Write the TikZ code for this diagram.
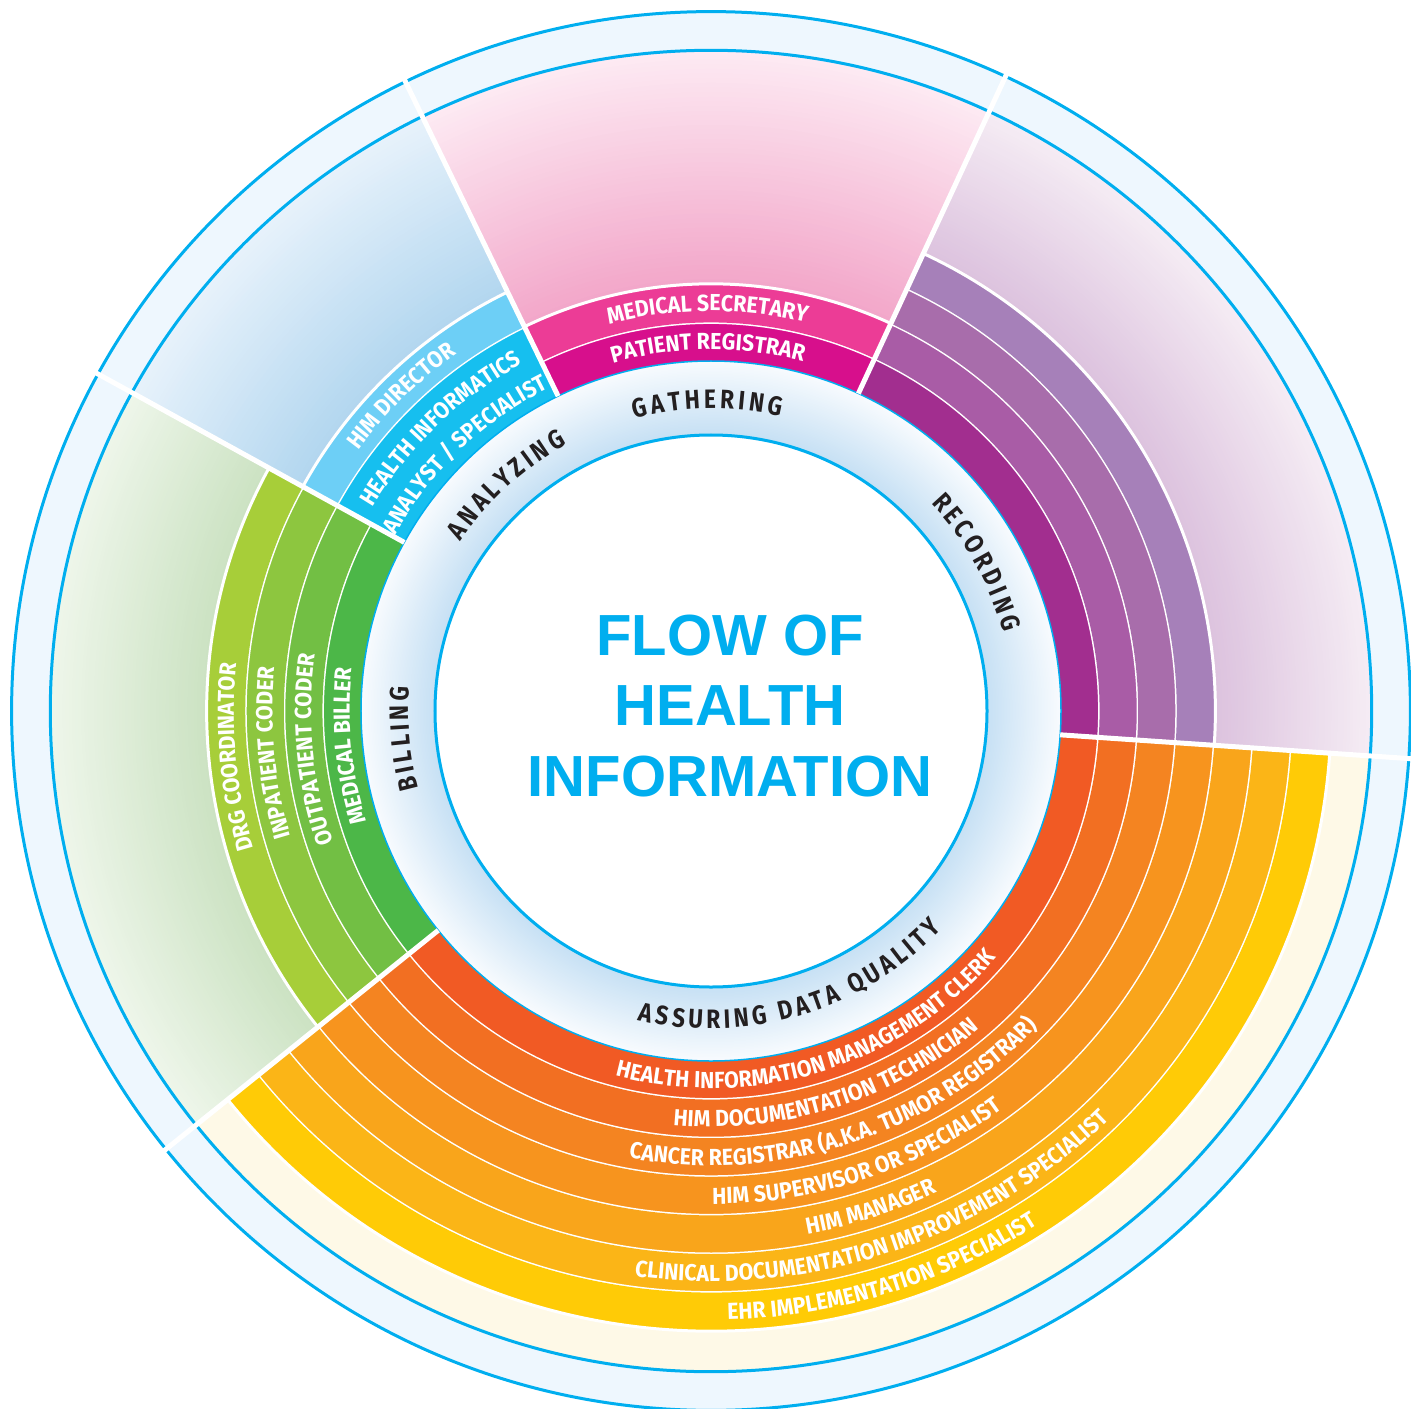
\documentclass[tikz,border=0pt]{standalone}
\usepackage{fontspec}
\usetikzlibrary{decorations.text}
\newfontfamily\bandfont[FakeStretch=0.92]{Fira Sans}
\newfontfamily\phasefont[FakeStretch=0.85]{Fira Sans}
\newfontfamily\titlefont{Liberation Sans}
\definecolor{blueline}{HTML}{00AEEF}
\definecolor{outerfill}{HTML}{EEF7FE}
\definecolor{phaseblack}{HTML}{231F20}
\definecolor{ringA}{HTML}{C6E0F4}
\definecolor{ringB}{HTML}{F8FBFE}
\definecolor{pinkA}{HTML}{F2A6C9}
\definecolor{pinkB}{HTML}{FDEAF3}
\definecolor{purpA}{HTML}{DCC2DE}
\definecolor{purpB}{HTML}{F5ECF4}
\definecolor{greenA}{HTML}{CBE2C2}
\definecolor{greenB}{HTML}{EEF6EA}
\definecolor{bluA}{HTML}{B2D6EF}
\definecolor{bluB}{HTML}{E7F2FB}
\definecolor{paleyellow}{HTML}{FEF9E7}
\definecolor{pk1}{HTML}{D70F8C}
\definecolor{pk2}{HTML}{EC3C96}
\definecolor{pu1}{HTML}{A22E8F}
\definecolor{pu2}{HTML}{A95CA6}
\definecolor{pu3}{HTML}{A86DAB}
\definecolor{pu4}{HTML}{A680B9}
\definecolor{or1}{HTML}{F15A24}
\definecolor{or2}{HTML}{F26F22}
\definecolor{or3}{HTML}{F48421}
\definecolor{or4}{HTML}{F7941E}
\definecolor{or5}{HTML}{F9A51B}
\definecolor{or6}{HTML}{FBB517}
\definecolor{or7}{HTML}{FFCB06}
\definecolor{gr1}{HTML}{4CB748}
\definecolor{gr2}{HTML}{72BF44}
\definecolor{gr3}{HTML}{8DC63F}
\definecolor{gr4}{HTML}{A7CE39}
\definecolor{bl1}{HTML}{16BFEF}
\definecolor{bl2}{HTML}{6DCFF6}
\newcommand{\annsec}[5]{\fill[#1] (#2:#4) arc[start angle=#2, end angle=#3, radius=#4] -- (#3:#5) arc[start angle=#3, end angle=#2, radius=#5] -- cycle;}
\newcommand{\sepline}[3]{\draw[white, line width=1.5pt] (#1:#3) arc[start angle=#1, end angle=#2, radius=#3];}
% gradient: inner colour #1 at radius #5, outer colour #2 at radius #6, clipped to angles #3..#4
\newcommand{\gradsector}[6]{\begin{scope}\clip (0,0) -- (#3:720) arc[start angle=#3, end angle=#4, radius=720] -- cycle;
  \foreach \i in {0,...,50} {%
    \pgfmathsetmacro\rr{#6-\i*(#6-#5)/50}%
    \pgfmathsetmacro\pp{\i*2}%
    \fill[#1!\pp!#2] (0,0) circle (\rr);
  }\end{scope}}
\newcommand{\bandstack}[3]{%
  \foreach \c [count=\k] in {#3} {%
    \pgfmathsetmacro\ri{350+38.6*(\k-1)}%
    \pgfmathsetmacro\ro{350+38.6*\k}%
    \annsec{\c}{#1}{#2}{\ri}{\ro}
    \sepline{#1}{#2}{\ro}
  }}
\newcommand{\bandstyle}{\bandfont\bfseries\fontsize{11.6pt}{13pt}\selectfont\color{white}}
\newcommand{\phasestyle}{\phasefont\bfseries\fontsize{13.3pt}{15pt}\selectfont\color{phaseblack}\kern1.9pt}
\newcommand{\intext}[3]{\path[decorate, decoration={text along path, text align=center, text={|\bandstyle|#3}}] ({#1-75}:#2) arc[start angle={#1-75}, end angle={#1+75}, radius=#2];}
\newcommand{\outtext}[3]{\path[decorate, decoration={text along path, text align=center, text={|\bandstyle|#3}}] ({#1+75}:#2) arc[start angle={#1+75}, end angle={#1-75}, radius=#2];}
\newcommand{\inphase}[3]{\path[decorate, decoration={text along path, text align=center, text={|\phasestyle|#3}}] ({#1-75}:#2) arc[start angle={#1-75}, end angle={#1+75}, radius=#2];}
\newcommand{\outphase}[3]{\path[decorate, decoration={text along path, text align=center, text={|\phasestyle|#3}}] ({#1+75}:#2) arc[start angle={#1+75}, end angle={#1-75}, radius=#2];}
\begin{document}
\begin{tikzpicture}[x=0.5pt,y=0.5pt]
\useasboundingbox (-711,-697) rectangle (700,711);
% outer pale ring
\fill[outerfill] (0,0) circle (699.4);
% sector gradients
\gradsector{pinkA}{pinkB}{65.1}{115.9}{427.2}{660.7}
\gradsector{bluA}{bluB}{115.9}{151.2}{465.8}{660.7}
\gradsector{greenA}{greenB}{151.2}{218.8}{504.4}{660.7}
\gradsector{purpA}{purpB}{-3.9}{65.1}{504.4}{660.7}
\annsec{paleyellow}{-141.2}{-3.9}{620.2}{660.7}
\draw[blueline, line width=1.5pt] (0,0) circle (699.4);
\draw[blueline, line width=1.5pt] (0,0) circle (660.7);
% bands
\bandstack{65.1}{115.9}{pk1,pk2}
\bandstack{-3.9}{65.1}{pu1,pu2,pu3,pu4}
\bandstack{-141.2}{-3.9}{or1,or2,or3,or4,or5,or6,or7}
\bandstack{151.2}{218.8}{gr1,gr2,gr3,gr4}
\annsec{bl1}{115.9}{151.2}{350}{427.2}
\sepline{115.9}{151.2}{427.2}
\annsec{bl2}{115.9}{151.2}{427.2}{465.8}
\sepline{115.9}{151.2}{465.8}
% phase ring
\gradsector{ringA}{ringB}{0}{360}{276}{350}
\draw[blueline, line width=0.75pt] (0,0) circle (350);
\fill[white] (0,0) circle (276);
\draw[blueline, line width=1.5pt] (0,0) circle (276);
% sector separators
\foreach \a in {65.1,115.9,151.2,218.8,356.1} {\draw[white, line width=2.5pt] (\a:350) -- (\a:712);}
% phase labels
\outphase{91}{302.5}{GATHERING}
\outphase{132.5}{302.5}{ANALYZING}
\outphase{29.5}{302.5}{RECORDING}
\outphase{185.5}{302.5}{BILLING}
\inphase{-73.7}{317.5}{ASSURING DATA QUALITY}
% pink
\outtext{90.5}{361.3}{PATIENT REGISTRAR}
\outtext{90.5}{399.9}{MEDICAL SECRETARY}
% blue
\outtext{133.75}{361.5}{ANALYST / SPECIALIST}
\outtext{133.75}{395}{HEALTH INFORMATICS}
\outtext{134.5}{438.5}{HIM DIRECTOR}
% green
\outtext{185.5}{361.3}{MEDICAL BILLER}
\outtext{185.5}{399.9}{OUTPATIENT CODER}
\outtext{185.5}{438.5}{INPATIENT CODER}
\outtext{185.5}{477.1}{DRG COORDINATOR}
% orange
\intext{-72.8}{377.3}{HEALTH INFORMATION MANAGEMENT CLERK}
\intext{-72.5}{415.9}{HIM DOCUMENTATION TECHNICIAN}
\intext{-72.2}{454.5}{CANCER REGISTRAR (A.K.A. TUMOR REGISTRAR)}
\intext{-71.8}{493.1}{HIM SUPERVISOR OR SPECIALIST}
\intext{-72.2}{531.7}{HIM MANAGER}
\intext{-71.7}{570.3}{CLINICAL DOCUMENTATION IMPROVEMENT SPECIALIST}
\intext{-73}{608.9}{EHR IMPLEMENTATION SPECIALIST}
% title
\node[align=center, text=blueline, font=\titlefont\bfseries\fontsize{29pt}{35.25pt}\selectfont, inner sep=0pt] (title) at (19,5.3) {FLOW OF\\HEALTH\\INFORMATION};
\end{tikzpicture}
\end{document}
